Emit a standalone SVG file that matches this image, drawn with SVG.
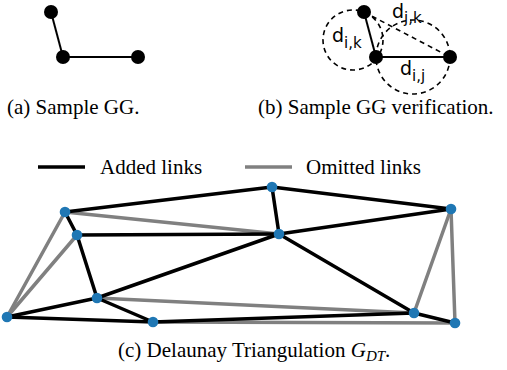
<svg xmlns="http://www.w3.org/2000/svg" width="507" height="370" viewBox="0 0 507 370">
<style>
.cap{font-family:"Liberation Serif","Times New Roman",serif;font-size:21px;fill:#000}
.lbl{font-family:"DejaVu Sans",sans-serif;font-size:19px;fill:#000}
.sub{font-size:15px}
.bn{fill:#000}
.sl{stroke:#000;stroke-width:2;fill:none}
.dl{stroke:#000;stroke-width:1.6;fill:none;stroke-dasharray:5,4}
.blk{stroke:#000;stroke-width:3.5;fill:none;stroke-linecap:round}
.gry{stroke:#808080;stroke-width:3.5;fill:none;stroke-linecap:round}
.dn{fill:#1f77b4}
</style>
<rect width="507" height="370" fill="#fff"/>
<!-- panel a -->
<g id="panel-a-edges">
<line class="sl" x1="51" y1="12" x2="63" y2="57"/>
<line class="sl" x1="63" y1="57" x2="138" y2="57"/>
</g>
<g id="a-n1"><circle class="bn" cx="51" cy="12" r="7"/></g>
<g id="a-n2"><circle class="bn" cx="63" cy="57" r="7"/></g>
<g id="a-n3"><circle class="bn" cx="138" cy="57" r="7"/></g>
<text class="cap" x="7" y="114">(a) Sample GG.</text>
<!-- panel b -->
<g id="panel-b-edges">
<circle class="dl" cx="353" cy="40" r="30"/>
<circle class="dl" cx="413" cy="57" r="37"/>
<line class="dl" x1="364" y1="12" x2="450" y2="57"/>
<line class="sl" x1="364" y1="12" x2="376" y2="57"/>
<line class="sl" x1="376" y1="57" x2="450" y2="57"/>
</g>
<g id="b-k"><circle class="bn" cx="364" cy="12" r="7"/></g>
<g id="b-i"><circle class="bn" cx="376" cy="57" r="7"/></g>
<g id="b-j"><circle class="bn" cx="450" cy="57" r="7"/></g>
<text class="lbl" x="332" y="42">d<tspan class="sub" dy="6">i,k</tspan></text>
<text class="lbl" x="392" y="18">d<tspan class="sub" dy="5">j,k</tspan></text>
<text class="lbl" x="400" y="75">d<tspan class="sub" dy="6">i,j</tspan></text>
<text class="cap" x="258" y="114">(b) Sample GG verification.</text>
<!-- legend -->
<g id="legend">
<line x1="38" y1="167" x2="85" y2="167" stroke="#000" stroke-width="3.5"/>
<text class="cap" x="100" y="174">Added links</text>
<line x1="245" y1="167" x2="292" y2="167" stroke="#808080" stroke-width="3.5"/>
<text class="cap" x="306" y="174">Omitted links</text>
</g>
<!-- panel c -->
<g id="connectors">
<line class="gry" x1="65" y1="212" x2="279" y2="234"/>
<line class="gry" x1="65" y1="212" x2="7" y2="317"/>
<line class="gry" x1="77" y1="235" x2="7" y2="317"/>
<line class="gry" x1="97" y1="298" x2="414" y2="313"/>
<line class="gry" x1="153" y1="322" x2="455" y2="323"/>
<line class="gry" x1="451" y1="209" x2="414" y2="313"/>
<line class="gry" x1="451" y1="209" x2="455" y2="323"/>
<line class="blk" x1="65" y1="212" x2="272" y2="187"/>
<line class="blk" x1="65" y1="212" x2="77" y2="235"/>
<line class="blk" x1="77" y1="235" x2="279" y2="234"/>
<line class="blk" x1="77" y1="235" x2="97" y2="298"/>
<line class="blk" x1="97" y1="298" x2="279" y2="234"/>
<line class="blk" x1="97" y1="298" x2="7" y2="317"/>
<line class="blk" x1="97" y1="298" x2="153" y2="322"/>
<line class="blk" x1="7" y1="317" x2="153" y2="322"/>
<line class="blk" x1="153" y1="322" x2="414" y2="313"/>
<line class="blk" x1="272" y1="187" x2="279" y2="234"/>
<line class="blk" x1="272" y1="187" x2="451" y2="209"/>
<line class="blk" x1="279" y1="234" x2="451" y2="209"/>
<line class="blk" x1="279" y1="234" x2="414" y2="313"/>
<line class="blk" x1="414" y1="313" x2="455" y2="323"/>
</g>
<g id="nA"><circle class="dn" cx="65" cy="212" r="5.3"/></g>
<g id="nB"><circle class="dn" cx="77" cy="235" r="5.3"/></g>
<g id="nC"><circle class="dn" cx="97" cy="298" r="5.3"/></g>
<g id="nD"><circle class="dn" cx="7" cy="317" r="5.3"/></g>
<g id="nE"><circle class="dn" cx="153" cy="322" r="5.3"/></g>
<g id="nF"><circle class="dn" cx="272" cy="187" r="5.3"/></g>
<g id="nG"><circle class="dn" cx="279" cy="234" r="5.3"/></g>
<g id="nH"><circle class="dn" cx="451" cy="209" r="5.3"/></g>
<g id="nI"><circle class="dn" cx="414" cy="313" r="5.3"/></g>
<g id="nJ"><circle class="dn" cx="455" cy="323" r="5.3"/></g>
<text class="cap" x="118" y="357">(c) Delaunay Triangulation <tspan font-style="italic">G</tspan><tspan font-style="italic" font-size="15" dy="4">DT</tspan><tspan dy="-4">.</tspan></text>
</svg>
